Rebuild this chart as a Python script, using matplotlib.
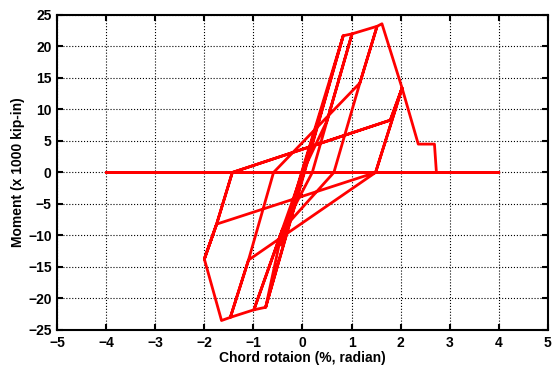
import numpy as np
import matplotlib.pyplot as plt

# hysteresis path: chord rotation (%) and moment (x1000 kip-in)
rotation = [0.00, 0.25, 0.02, -0.25, -0.02, 0.45, 0.05, -0.45, -0.05,
            0.83, 0.03, -0.75, 0.04, 0.83, 1.01, 0.20, -0.41, -0.75, -0.99, 0.00,
            0.50, 1.01, 1.52, 1.17, 0.64, -0.41, -0.99, -1.47, -1.10, -0.59,
            1.17, 1.52, 1.62, 2.03, 1.79, 1.49, -1.10, -1.47, -1.65, -2.00,
            -1.75, -1.43, 1.79, 2.03, 1.49, -1.75, -2.00, -1.75, -1.43,
            1.79, 2.03, 2.36, 2.69, 2.73, 4.00, -4.00, 4.00]
moment = [0.0, 6.5, 0.3, -6.5, -0.3, 11.5, 0.8, -11.5, -0.8,
          21.7, 0.0, -21.4, 0.0, 21.7, 22.0, 0.0, -9.1, -21.4, -21.8, 0.0,
          8.2, 22.0, 23.2, 14.2, 0.0, -9.1, -21.8, -23.0, -13.9, 0.0,
          14.2, 23.2, 23.6, 13.4, 7.4, 0.0, -13.9, -23.0, -23.5, -13.75,
          -8.2, 0.0, 8.3, 13.4, 0.0, -8.2, -13.75, -8.2, 0.0,
          8.3, 13.4, 4.5, 4.5, 0.0, 0.0, 0.0, 0.0]

xticks = np.arange(-5, 6, 1)
yticks = np.arange(-25, 30, 5)

fig = plt.figure(figsize=(5.55, 3.65), dpi=100)
ax = fig.add_axes([0.103, 0.096, 0.884, 0.863])

ax.plot(rotation, moment, color='#ff0000', lw=2.0, solid_joinstyle='round')

ax.set_xlim(-5, 5)
ax.set_ylim(-25, 25)
ax.set_xticks(xticks)
ax.set_yticks(yticks)
ax.grid(True, linestyle=':', color='k', lw=0.8)
ax.tick_params(direction='in', top=True, right=True, length=4, width=1.5,
               labelsize=10, pad=4)
for lab in ax.get_xticklabels() + ax.get_yticklabels():
    lab.set_fontweight('bold')
    lab.set_family('Liberation Sans')
for sp in ax.spines.values():
    sp.set_linewidth(1.5)

ax.set_xlabel('Chord rotaion (%, radian)', fontsize=10, fontweight='bold',
              family='Liberation Sans', labelpad=1)
ax.set_ylabel('Moment (x 1000 kip-in)', fontsize=10, fontweight='bold',
              family='Liberation Sans', labelpad=2)

plt.savefig('out.png', dpi=100)
